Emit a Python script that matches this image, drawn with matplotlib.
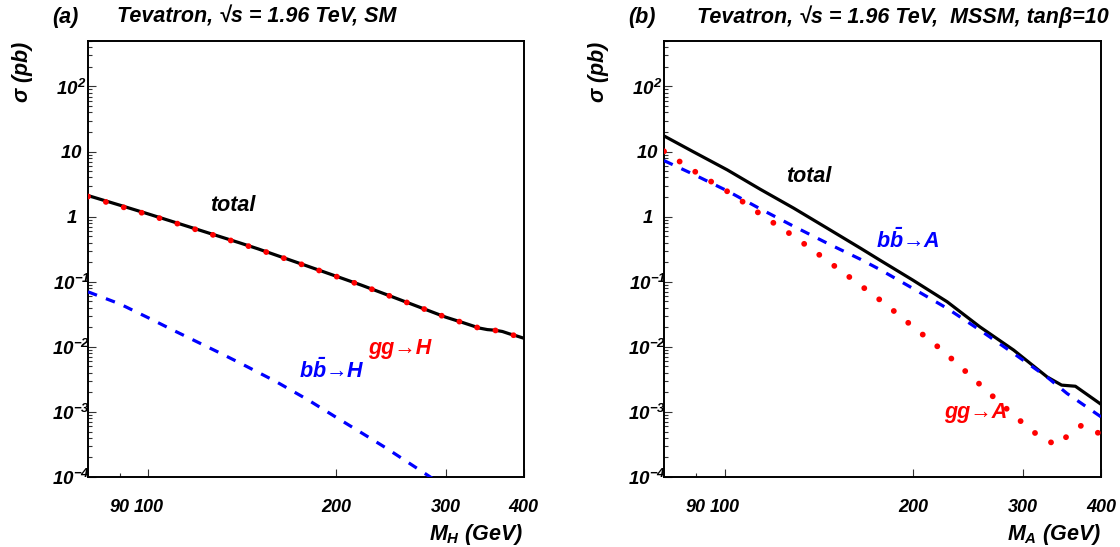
import matplotlib
matplotlib.use("Agg")
import matplotlib.pyplot as plt
from matplotlib.ticker import FixedLocator, LogLocator, NullFormatter

plt.rcParams['font.family'] = ['Liberation Sans', 'DejaVu Sans']
plt.rcParams['font.weight'] = 'bold'
plt.rcParams['font.style'] = 'italic'
plt.rcParams['mathtext.fontset'] = 'custom'
plt.rcParams['mathtext.rm'] = 'Liberation Sans:bold:italic'
plt.rcParams['mathtext.it'] = 'Liberation Sans:bold:italic'
plt.rcParams['mathtext.bf'] = 'Liberation Sans:bold:italic'

# (a) SM: cross sections in pb vs M_H in GeV
mh = [80, 90, 100, 110, 120, 130, 140, 150, 160, 180, 200, 220, 240, 260,
      280, 300, 320, 340, 350, 360, 370, 380, 390, 400]
sm_total = [2.11, 1.50, 1.10, 0.825, 0.634, 0.497, 0.397, 0.320, 0.258, 0.174,
            0.122, 0.0883, 0.0645, 0.0482, 0.0368, 0.0286, 0.0235, 0.0194,
            0.0184, 0.0180, 0.0172, 0.0158, 0.0147, 0.0136]
sm_gg = [2.04, 1.45, 1.07, 0.81, 0.622, 0.489, 0.391, 0.316, 0.255, 0.172,
         0.121, 0.0878, 0.0642, 0.0480, 0.0367, 0.0285, 0.0234, 0.0193,
         0.0183, 0.0179, 0.0171, 0.0157, 0.0146, 0.0135]
mh_bb = [80, 90, 100, 110, 120, 130, 140, 150, 160, 180, 200, 220, 240, 260,
         280, 300]
sm_bb = [0.070, 0.0456, 0.0279, 0.0177, 0.0118, 0.00813, 0.00570, 0.00406,
         0.00295, 0.00155, 8.3e-4, 4.75e-4, 2.84e-4, 1.72e-4, 1.08e-4, 7.0e-5]

# (b) MSSM, tan(beta)=10: cross sections in pb vs M_A in GeV
ma_tot = [80, 89, 101, 114, 129, 146, 165, 177, 200, 227, 256, 290, 328, 346,
          364, 400]
mssm_total = [17.4, 10.0, 5.23, 2.64, 1.35, 0.663, 0.327, 0.216, 0.106, 0.0492,
              0.0203, 0.0089, 0.00345, 0.00258, 0.00248, 0.00131]
ma_bb = [80, 89, 101, 114, 129, 146, 165, 177, 200, 227, 256, 290, 328, 353, 400]
mssm_bb = [7.27, 4.51, 2.49, 1.32, 0.711, 0.390, 0.221, 0.155, 0.0791, 0.0390,
           0.0181, 0.00791, 0.00342, 0.00192, 8.4e-4]
ma_gg = [80, 91, 103, 115, 129, 144, 161, 180, 200, 223, 247, 273, 303, 320,
         340, 356, 372, 396, 400]
mssm_gg = [10.1, 4.49, 2.18, 1.036, 0.500, 0.232, 0.105, 0.0470, 0.0205,
           0.00881, 0.00363, 0.00150, 6.18e-4, 4.08e-4, 3.08e-4, 4.54e-4,
           6.18e-4, 4.75e-4, 4.5e-4]

xticks = [100, 200, 300, 400]
xticklabels = ['100', '200', '300', '400']
xminor = [90]
xminorlabels = ['90']
yticks = [1e-4, 1e-3, 1e-2, 1e-1, 1, 10, 100]
yticklabels = [r'$10^{-4}$', r'$10^{-3}$', r'$10^{-2}$', r'$10^{-1}$',
               r'$1$', r'$10$', r'$10^{2}$']

W, H = 1120, 547
fig = plt.figure(figsize=(W / 100, H / 100), dpi=100)
axA = fig.add_axes([88 / W, 1 - 477 / H, 435.5 / W, 436 / H])
axB = fig.add_axes([664 / W, 1 - 477 / H, 437 / W, 436 / H])

black = dict(color='black', lw=2.3, solid_capstyle='butt', zorder=3)
dashed = dict(color='#0000ff', lw=2.3, linestyle=(0, (3, 3)),
              dash_capstyle='butt', zorder=3)
dotted = dict(color='#ff0000', lw=4.2, linestyle=(0, (0.01, 3.19)),
              dash_capstyle='round', zorder=4)

axA.plot(mh, sm_total, **black)
axA.plot(mh, sm_gg, **dotted)
axA.plot(mh_bb, sm_bb, **dashed)

axB.plot(ma_tot, mssm_total, **black)
axB.plot(ma_bb, mssm_bb, **dashed)
axB.plot(ma_gg, mssm_gg, **dotted)


def setup(ax, title, tag, xlab, tx):
    ax.set_xscale('log')
    ax.set_yscale('log')
    ax.set_xlim(80, 400)
    ax.set_ylim(1e-4, 500)
    ax.set_xticks(xticks, xticklabels)
    ax.set_xticks(xminor, xminorlabels, minor=True)
    ax.yaxis.set_major_locator(FixedLocator(yticks))
    ax.set_yticklabels(yticklabels)
    ax.yaxis.set_minor_locator(LogLocator(base=10, subs=range(2, 10), numticks=30))
    ax.yaxis.set_minor_formatter(NullFormatter())
    for s in ax.spines.values():
        s.set_linewidth(1.4)
    ax.tick_params(axis='both', which='both', direction='in', top=False,
                   right=False, width=0.8, color='#333333')
    ax.tick_params(axis='both', which='major', length=6)
    ax.tick_params(axis='both', which='minor', length=3)
    ax.tick_params(axis='x', which='both', pad=16, labelsize=13)
    ax.tick_params(axis='y', which='major', pad=12, labelsize=13.5)
    for t in ax.get_yticklabels():
        t.set_ha('center')
    ax.text(1.0, -0.133, xlab, transform=ax.transAxes, ha='right',
            va='center', fontsize=15.5)
    ax.text(-0.15, 1.0, r'$\sigma$ (pb)', transform=ax.transAxes,
            rotation=90, ha='center', va='top', fontsize=15.5)
    ax.text(-0.0825, 1.055, tag, transform=ax.transAxes, ha='left',
            va='center', fontsize=15.5)
    ax.text(tx, 1.055, title, transform=ax.transAxes, ha='left',
            va='center', fontsize=15.5)


setup(axA, 'Tevatron, √s = 1.96 TeV, SM', '(a)', r'$M_{H}$ (GeV)', 0.0666)
setup(axB, 'Tevatron, √s = 1.96 TeV,  MSSM, tanβ=10', '(b)',
      r'$M_{A}$ (GeV)', 0.0755)

axA.text(136.8, 1.51, 'total', ha='center', va='center', fontsize=15.5)
axA.text(253, 0.00955, 'gg→H', color='#ff0000',
         ha='center', va='center', fontsize=15.5)
axA.text(196.9, 0.00438, r'$b\bar{b}$→H', color='#0000ff',
         ha='center', va='center', fontsize=15.5)

axB.text(136.5, 4.08, 'total', ha='center', va='center', fontsize=15.5)
axB.text(196.6, 0.428, r'$b\bar{b}$→A', color='#0000ff',
         ha='center', va='center', fontsize=15.5)
axB.text(252.6, 9.66e-4, 'gg→A', color='#ff0000',
         ha='center', va='center', fontsize=15.5)

fig.savefig('out.png', dpi=100)
